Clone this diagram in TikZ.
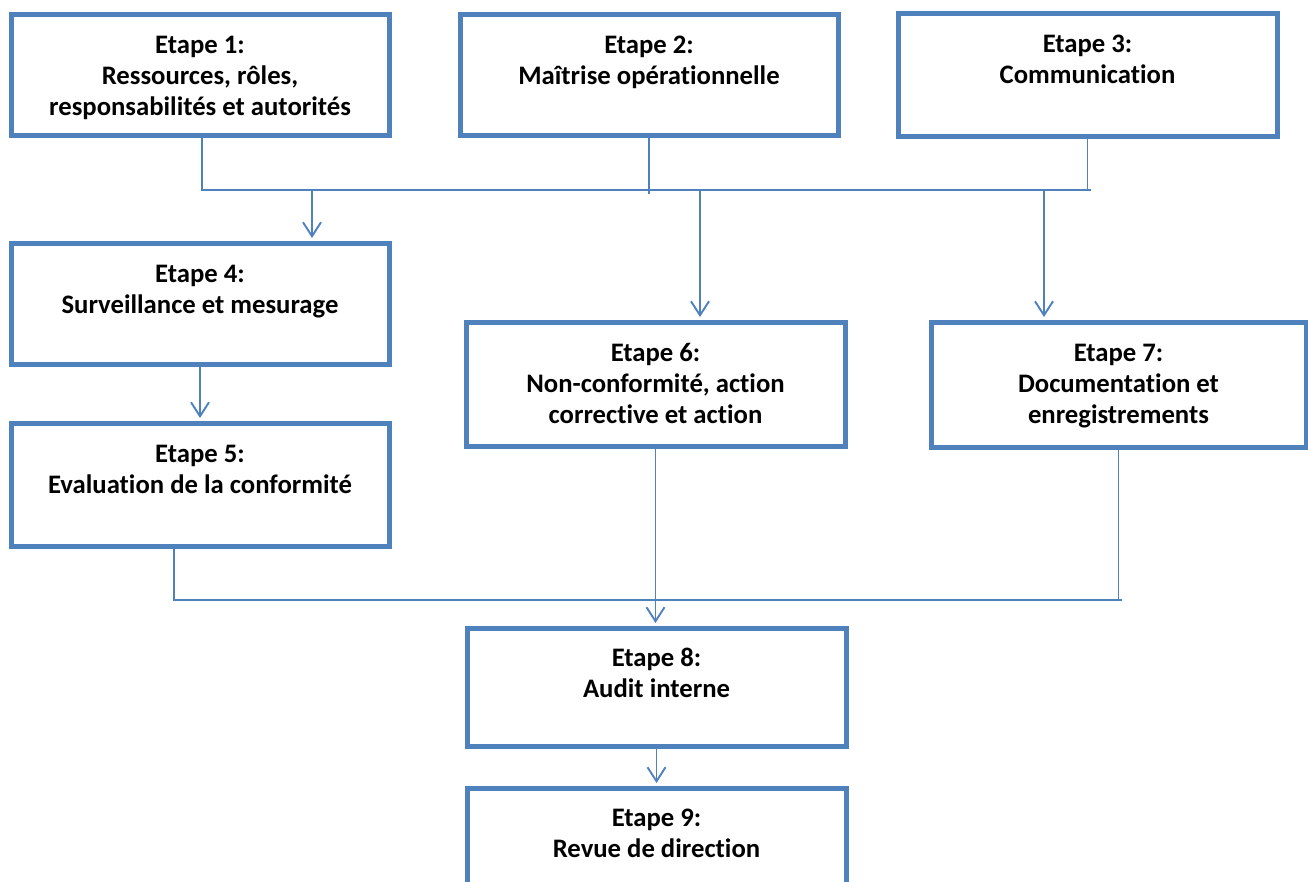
\documentclass[tikz,border=0pt]{standalone}
\usepackage{fontspec}
\setmainfont{Carlito}[Ligatures=NoCommon]
\usetikzlibrary{arrows.meta}
\definecolor{stepblue}{HTML}{4F81BD}
% invisible strut fixing the height of the first text line
\newcommand\stepstrut{\rule{0pt}{24pt}}
\begin{document}
\begin{tikzpicture}[x=1pt,y=-1pt,
  stepbox/.style={draw=stepblue, line width=5pt, fill=white, inner sep=0pt},
  steptext/.style={anchor=north, align=center, inner sep=0pt,
                   font=\fontsize{26.7}{31}\selectfont\bfseries},
  link/.style={draw=stepblue, line width=1.9pt},
  arr/.style={link, -{Straight Barb[length=14pt,width=18pt,line width=1.9pt]},
              shorten >=2.5pt}]
\clip (0,0) rectangle (1308,881);

% boxes
\node[stepbox, minimum width=378pt, minimum height=121pt] (b1) at (200,74.5) {};
\node[stepbox, minimum width=378pt, minimum height=121pt] (b2) at (649,74.5) {};
\node[stepbox, minimum width=379pt, minimum height=123pt] (b3) at (1087.5,74.5) {};
\node[stepbox, minimum width=378pt, minimum height=121pt] (b4) at (200,303.5) {};
\node[stepbox, minimum width=378pt, minimum height=123pt] (b5) at (200,484.5) {};
\node[stepbox, minimum width=379pt, minimum height=124pt] (b6) at (655.5,384) {};
\node[stepbox, minimum width=375pt, minimum height=125pt] (b7) at (1118.5,384.5) {};
\node[stepbox, minimum width=379pt, minimum height=118pt] (b8) at (656.5,687) {};
\node[stepbox, minimum width=379pt, minimum height=122pt] (b9) at (656.5,849) {};

% texts
\node[steptext] (t1) at ([yshift=-18pt]b1.north) {\stepstrut Etape 1:\\Ressources, rôles,\\responsabilités et autorités};
\node[steptext] (t2) at ([yshift=-18pt]b2.north) {\stepstrut Etape 2:\\Maîtrise opérationnelle};
\node[steptext] (t3) at ([yshift=-18pt]b3.north) {\stepstrut Etape 3:\\Communication};
\node[steptext] (t4) at ([yshift=-18pt]b4.north) {\stepstrut Etape 4:\\Surveillance et mesurage};
\node[steptext] (t5) at ([yshift=-18pt]b5.north) {\stepstrut Etape 5:\\Evaluation de la conformité};
\node[steptext] (t6) at ([yshift=-18pt]b6.north) {\stepstrut Etape 6:\\Non-conformité, action\\corrective et action};
\node[steptext] (t7) at ([yshift=-18pt]b7.north) {\stepstrut Etape 7:\\Documentation et\\enregistrements};
\node[steptext] (t8) at ([yshift=-17pt]b8.north) {\stepstrut Etape 8:\\Audit interne};
\node[steptext] (t9) at ([yshift=-17pt]b9.north) {\stepstrut Etape 9:\\Revue de direction};

% upper collecting line
\coordinate (busA) at (0,190);
\coordinate (u1) at (202,0);
\draw[link] (u1 |- b1.south) |- ([xshift=3pt]b3.south |- busA);
\draw[link] (b3.south) -- (b3.south |- busA);
\draw[link] (b2.south) -- ([yshift=-4pt]b2.south |- busA);
\coordinate (d4) at (312,190);
\coordinate (d6) at (700,190);
\coordinate (d7) at (1044,190);
\draw[arr] (d4) -- (d4 |- b4.north);
\draw[arr] (d6) -- (d6 |- b6.north);
\draw[arr] (d7) -- (d7 |- b7.north);
\draw[arr] (b4.south) -- (b5.north);

% lower collecting line
\coordinate (busB) at (0,600);
\coordinate (u5) at (174,0);
\draw[link] (u5 |- b5.south) |- ([xshift=3pt]b7.south |- busB);
\draw[link] (b7.south) -- (b7.south |- busB);
\draw[arr] (b6.south) -- (b6.south |- b8.north);
\draw[arr] (b8.south) -- (b8.south |- b9.north);
\end{tikzpicture}
\end{document}
